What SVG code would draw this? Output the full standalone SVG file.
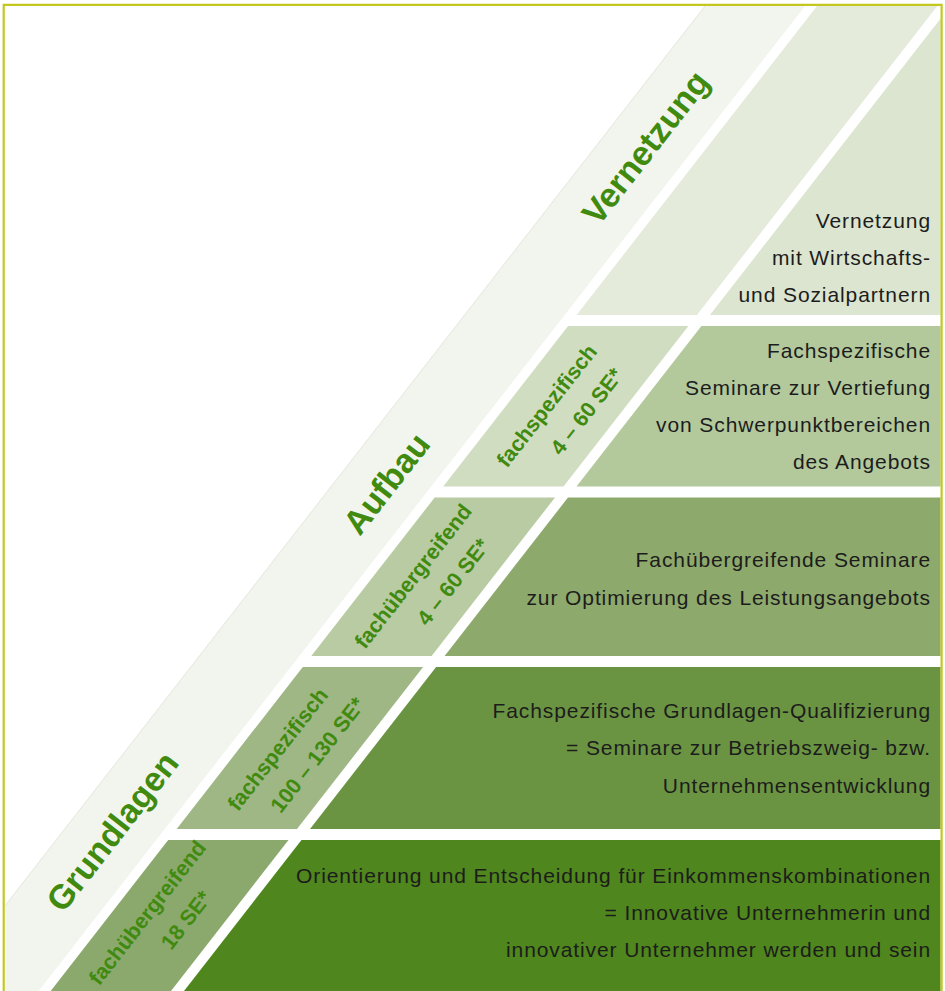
<svg xmlns="http://www.w3.org/2000/svg" width="945" height="991" viewBox="0 0 945 991">
<defs>
<clipPath id="frame"><rect x="4.8" y="5.9" width="935.8" height="985.1"/></clipPath>
<style>
.t{font-family:"Liberation Sans",Arial,sans-serif;font-size:21px;fill:#1c1c1c;text-anchor:end;letter-spacing:0.9px}
.big{font-family:"Liberation Sans",Arial,sans-serif;font-size:34px;font-weight:bold;fill:#418a10;text-anchor:middle}
.sm{font-family:"Liberation Sans",Arial,sans-serif;font-size:21.5px;font-weight:bold;fill:#418a10;text-anchor:middle}
</style>
</defs>
<rect x="0" y="0" width="945" height="991" fill="#ffffff"/>
<g id="band-phases">
<polygon clip-path="url(#frame)" points="705.1,5.9 805.1,5.9 38.7,991 -61.3,991" fill="#f2f5ed"/>
<line clip-path="url(#frame)" x1="705.1" y1="5.9" x2="-61.3" y2="991" stroke="#dde2d5" stroke-width="0.8"/>
<g id="label-vernetzung" transform="translate(646,148) rotate(-52.1)"><text class="big" x="0" y="11">Vernetzung</text></g>
<g id="label-aufbau" transform="translate(387,484) rotate(-52.1)"><text class="big" x="0" y="11">Aufbau</text></g>
<g id="label-grundlagen" transform="translate(113,832) rotate(-52.1)"><text class="big" x="0" y="11">Grundlagen</text></g>
</g>
<g id="row-vernetzung">
<g clip-path="url(#frame)">
<polygon points="817.1,5.9 937.4,5.9 696.9,315 576.6,315" fill="#e4ebdb"/>
<polygon points="950.4,5.9 960,5.9 960,315 709.9,315" fill="#dce5cf"/>
</g>
<text class="t" x="931" y="228">Vernetzung</text>
<text class="t" x="931" y="265">mit Wirtschafts-</text>
<text class="t" x="931" y="302">und Sozialpartnern</text>
</g>
<g id="row-aufbau-fachspezifisch">
<g clip-path="url(#frame)">
<polygon points="568.1,326 688.4,326 563.5,486.5 443.2,486.5" fill="#d1ddc0"/>
<polygon points="701.4,326 960,326 960,486.5 576.5,486.5" fill="#b3c99c"/>
</g>
<g transform="translate(566.5,408.5) rotate(-52.1)">
<text class="sm" x="-10" y="-10">fachspezifisch</text>
<text class="sm" x="10" y="25">4 – 60 SE*</text>
</g>
<text class="t" x="931" y="358">Fachspezifische</text>
<text class="t" x="931" y="395">Seminare zur Vertiefung</text>
<text class="t" x="931" y="432">von Schwerpunktbereichen</text>
<text class="t" x="931" y="469">des Angebots</text>
</g>
<g id="row-aufbau-fachuebergreifend">
<g clip-path="url(#frame)">
<polygon points="434.7,497.5 555,497.5 431.6,656 311.3,656" fill="#b8cba2"/>
<polygon points="568,497.5 960,497.5 960,656 444.6,656" fill="#8ea96c"/>
</g>
<g transform="translate(433,579) rotate(-52.1)">
<text class="sm" x="-10" y="-10">fachübergreifend</text>
<text class="sm" x="10" y="25">4 – 60 SE*</text>
</g>
<text class="t" x="931" y="567">Fachübergreifende Seminare</text>
<text class="t" x="931" y="605">zur Optimierung des Leistungsangebots</text>
</g>
<g id="row-grundlagen-fachspezifisch">
<g clip-path="url(#frame)">
<polygon points="302.8,667 423.1,667 297,829 176.7,829" fill="#9eb785"/>
<polygon points="436.1,667 960,667 960,829 310,829" fill="#6a9442"/>
</g>
<g transform="translate(297.5,752) rotate(-52.1)">
<text class="sm" x="-10" y="-10">fachspezifisch</text>
<text class="sm" x="10" y="25">100 – 130 SE*</text>
</g>
<text class="t" x="931" y="718">Fachspezifische Grundlagen-Qualifizierung</text>
<text class="t" x="931" y="755">= Seminare zur Betriebszweig- bzw.</text>
<text class="t" x="931" y="793">Unternehmensentwicklung</text>
</g>
<g id="row-grundlagen-fachuebergreifend">
<g clip-path="url(#frame)">
<polygon points="168.2,840 288.5,840 171,991 50.7,991" fill="#8ba96c"/>
<polygon points="301.5,840 960,840 960,991 184,991" fill="#4f861d"/>
</g>
<g transform="translate(166,917) rotate(-52.1)">
<text class="sm" x="-8" y="-10">fachübergreifend</text>
<text class="sm" x="10" y="25">18 SE*</text>
</g>
<text class="t" x="931" y="883">Orientierung und Entscheidung für Einkommenskombinationen</text>
<text class="t" x="931" y="920">= Innovative Unternehmerin und</text>
<text class="t" x="931" y="957">innovativer Unternehmer werden und sein</text>
</g>
<path d="M3.7,991 V4.8 H941.6 V991" fill="none" stroke="#c4c81e" stroke-width="2.2"/>
</svg>
